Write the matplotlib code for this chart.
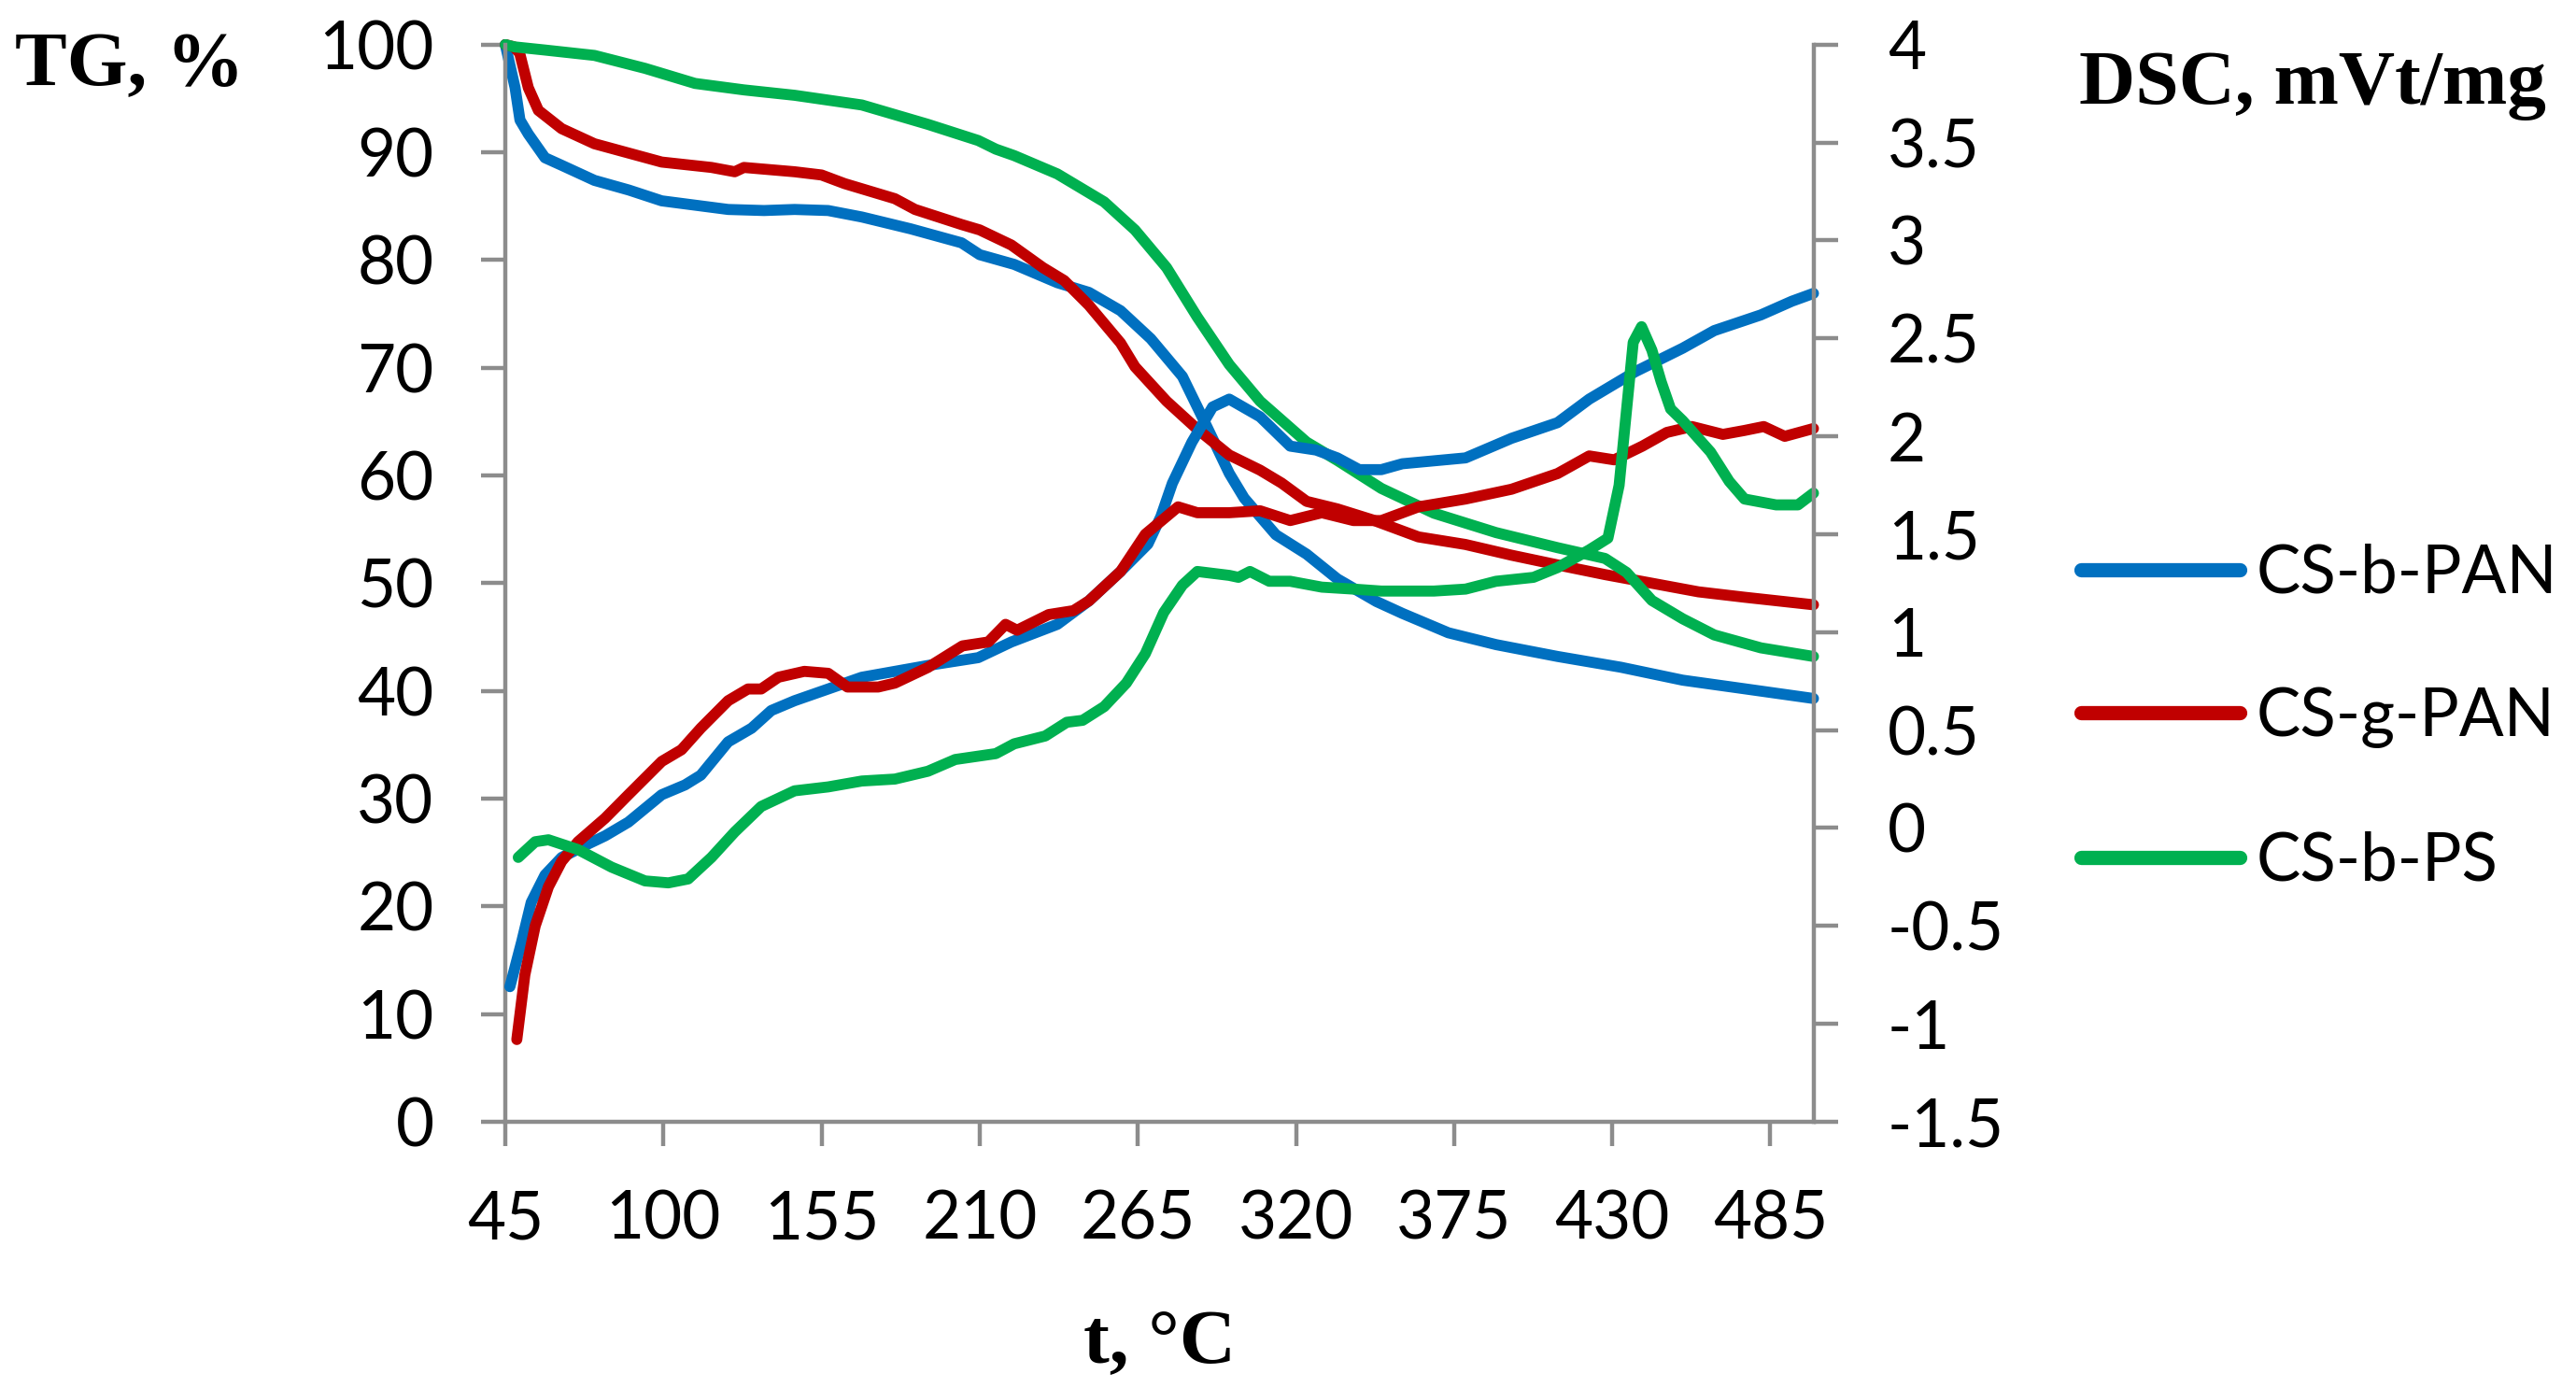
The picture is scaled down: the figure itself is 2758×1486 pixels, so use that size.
import matplotlib
matplotlib.use("Agg")
import matplotlib.pyplot as plt
from matplotlib.lines import Line2D

# TG curves (left axis, %)
t_tg_b_pan = [45, 48.4, 50.1, 53, 58.8, 64.6, 76, 88, 99.4, 122.5, 135, 145.6, 157.3, 169, 186, 203.7,
              210, 222, 237, 248, 259, 269.5, 280.5, 288, 296.8, 302, 313, 323.7, 334.4, 348, 357,
              373, 389.6, 411, 433, 454.5, 476, 500]
tg_b_pan = [100, 96, 93, 91.7, 89.5, 88.8, 87.4, 86.5, 85.5, 84.7, 84.6, 84.7, 84.6, 84, 82.9, 81.6,
            80.5, 79.6, 77.9, 77, 75.3, 72.7, 69.2, 65.1, 60.2, 57.9, 54.5, 52.7, 50.4, 48.3, 47.2,
            45.4, 44.3, 43.2, 42.2, 41, 40.2, 39.3]

t_tg_g_pan = [45, 48, 50, 53, 56.5, 64.6, 76, 99.4, 116.7, 124.8, 128, 145.6, 155, 163, 180.5, 187.5,
              203.7, 210, 221, 232, 239.4, 248, 259, 264, 275, 285.7, 296.8, 307.5, 315, 323.7, 334.4,
              346.4, 362.6, 378.9, 395, 411, 427.5, 443.8, 460, 476, 500]
tg_g_pan = [100, 99.8, 99.2, 96, 93.9, 92.2, 90.8, 89.1, 88.6, 88.2, 88.6, 88.2, 87.9, 87.1, 85.7, 84.7,
            83.3, 82.8, 81.4, 79.3, 78.1, 75.8, 72.3, 70.1, 66.9, 64.3, 61.9, 60.5, 59.3, 57.6, 56.9,
            55.9, 54.3, 53.6, 52.6, 51.7, 50.8, 50, 49.2, 48.7, 48]

t_tg_b_ps = [45, 48, 58.8, 76, 93.6, 111, 128, 145.6, 169, 192, 209.5, 215.6, 222, 237, 253.3, 264,
             275, 285.7, 296.8, 307.5, 323.7, 334.4, 349.7, 368, 389.6, 411, 427.5, 435, 443.8, 454.5,
             465.5, 481.7, 500]
tg_b_ps = [100, 99.8, 99.5, 99, 97.8, 96.4, 95.8, 95.3, 94.4, 92.6, 91.1, 90.3, 89.7, 88, 85.4, 82.8,
           79.3, 74.7, 70.3, 66.9, 63.1, 61.4, 58.8, 56.5, 54.7, 53.3, 52.3, 51, 48.4, 46.7,
           45.2, 44, 43.2]

# DSC curves (right axis, mVt/mg)
t_dsc_b_pan = [46.6, 50.7, 54, 58.8, 64.6, 74, 79.7, 87.8, 99.4, 107.5, 113, 122.5, 130.7, 137.5, 145.6,
               157.3, 169, 180.5, 192, 209.5, 221, 237, 248, 259, 268.5, 273, 277, 283.8, 291, 296.8,
               307.5, 318, 327, 334.4, 342, 349.7, 357, 379, 395, 411, 422, 438, 454.5, 465.5, 481.7,
               492.5, 500]
dsc_b_pan = [-0.81, -0.58, -0.38, -0.24, -0.15, -0.08, -0.04, 0.03, 0.17, 0.22, 0.27, 0.44, 0.51, 0.60, 0.65,
             0.71, 0.77, 0.80, 0.83, 0.87, 0.95, 1.04, 1.16, 1.31, 1.45, 1.59, 1.76, 1.97, 2.15, 2.19,
             2.10, 1.95, 1.93, 1.89, 1.83, 1.83, 1.86, 1.89, 1.99, 2.07, 2.19, 2.33, 2.45, 2.54, 2.62,
             2.69, 2.73]

t_dsc_g_pan = [49, 51.8, 55.4, 60, 64.6, 70.3, 79.7, 87.8, 99.4, 106.3, 113, 122.5, 129.4, 134, 140, 149,
               157.3, 164, 174.7, 180.5, 192, 204, 213, 219, 223, 234, 242.6, 248, 259, 267.6, 279,
               285.7, 296.8, 307.5, 318, 329, 340, 349.7, 362.6, 379, 395, 411, 422, 430.7, 440.5, 449,
               457.7, 468.5, 476, 482.7, 490, 500]
dsc_g_pan = [-1.08, -0.75, -0.50, -0.30, -0.17, -0.07, 0.05, 0.17, 0.34, 0.40, 0.51, 0.65, 0.71, 0.71, 0.77, 0.80,
             0.79, 0.72, 0.72, 0.74, 0.82, 0.93, 0.95, 1.04, 1.01, 1.09, 1.11, 1.16, 1.31, 1.50, 1.64,
             1.61, 1.61, 1.62, 1.57, 1.61, 1.57, 1.57, 1.64, 1.68, 1.73, 1.81, 1.90, 1.88, 1.95, 2.02,
             2.05, 2.01, 2.03, 2.05, 2.00, 2.04]

t_dsc_b_ps = [49.5, 55.4, 60, 70.3, 82, 93.6, 101.7, 108.6, 116.7, 124.8, 134, 145.6, 157.3, 169, 180.5,
              192, 201.5, 215.6, 222, 232.8, 240.3, 245.8, 253.3, 261, 267.6, 274, 280.5, 285.7, 296.8,
              300, 304, 310.7, 318, 329, 340, 349.7, 368, 379, 389.6, 402.6, 411, 422, 428.5, 432.4,
              437.3, 440.2, 443.8, 447, 450.3, 454.5, 464.2, 470.7, 476, 487, 494.6, 500]
dsc_b_ps = [-0.15, -0.07, -0.06, -0.11, -0.20, -0.27, -0.28, -0.26, -0.15, -0.02, 0.11, 0.19, 0.21, 0.24, 0.25,
            0.29, 0.35, 0.38, 0.43, 0.47, 0.54, 0.55, 0.62, 0.74, 0.89, 1.10, 1.24, 1.31, 1.29,
            1.28, 1.31, 1.26, 1.26, 1.23, 1.22, 1.21, 1.21, 1.22, 1.26, 1.28, 1.33, 1.42, 1.48, 1.75,
            2.48, 2.56, 2.44, 2.28, 2.14, 2.08, 1.92, 1.77, 1.68, 1.65, 1.65, 1.71]

labels = ["CS-b-PAN", "CS-g-PAN", "CS-b-PS"]
colors = ["#0070C0", "#C00000", "#00B050"]
x_ticks = [45, 100, 155, 210, 265, 320, 375, 430, 485]

axis_grey = "#8c8c8c"
tick_font = "Lato"
title_font = "Liberation Serif"

fig = plt.figure(figsize=(27.58, 14.86), dpi=100)
ax = fig.add_axes([0.19616, 0.19179, 0.50783, 0.77604])
ax2 = ax.twinx()

line_kw = dict(linewidth=8.5, solid_capstyle="round", solid_joinstyle="round", clip_on=False)

# TG on the primary axis
tg_series = [(t_tg_b_pan, tg_b_pan), (t_tg_g_pan, tg_g_pan), (t_tg_b_ps, tg_b_ps)]
for (tt, vv), c in zip(tg_series, colors):
    ax.plot(tt, vv, color=c, **line_kw)

# DSC on the secondary axis
dsc_series = [(t_dsc_b_pan, dsc_b_pan), (t_dsc_g_pan, dsc_g_pan), (t_dsc_b_ps, dsc_b_ps)]
for (tt, vv), c in zip(dsc_series, colors):
    ax2.plot(tt, vv, color=c, **line_kw)

ax.set_xlim(45, 500)
ax.set_ylim(0, 100)
ax2.set_ylim(-1.5, 4)
ax.set_xticks(x_ticks)
ax.set_yticks(range(0, 101, 10))
ax2.set_yticks([-1.5, -1, -0.5, 0, 0.5, 1, 1.5, 2, 2.5, 3, 3.5, 4])
ax2.set_yticklabels(["-1.5", "-1", "-0.5", "0", "0.5", "1", "1.5", "2", "2.5", "3", "3.5", "4"])

for a in (ax, ax2):
    a.spines["top"].set_visible(False)
    for side in ("left", "right", "bottom"):
        a.spines[side].set_color(axis_grey)
        a.spines[side].set_linewidth(3.2)
    a.tick_params(axis="both", direction="out", length=19, width=3.2, color=axis_grey,
                  labelsize=51, labelcolor="black")
    for lab in a.get_xticklabels() + a.get_yticklabels():
        lab.set_fontfamily(tick_font)

ax.spines["right"].set_visible(False)
ax2.spines["left"].set_visible(False)
ax2.spines["bottom"].set_visible(False)
ax.tick_params(axis="x", pad=33)
ax.tick_params(axis="y", pad=36)
ax2.tick_params(axis="y", pad=38)

# axis titles
fig.text(16 / 2758, 1 - 91.5 / 1486, "TG, %", fontfamily=title_font, fontweight="bold",
         fontsize=60, ha="left", va="baseline")
fig.text(2226 / 2758, 1 - 111 / 1486, "DSC, mVt/mg", fontfamily=title_font, fontweight="bold",
         fontsize=60, ha="left", va="baseline")
fig.text(1241 / 2758, 1 - 1457.6 / 1486, "t, \u00b0C", fontfamily=title_font, fontweight="bold",
         fontsize=60, ha="center", va="baseline")

# legend
handles = [Line2D([0], [0], color=c, linewidth=11, solid_capstyle="round") for c in colors]
leg = fig.legend(handles, labels, loc="center left", bbox_to_anchor=(2228 / 2758, 1 - 768 / 1486),
                 frameon=False, prop={"family": tick_font, "size": 51}, handlelength=2.4,
                 handletextpad=0.25, labelspacing=1.25, borderpad=0, borderaxespad=0)

fig.savefig("out.png", dpi=100)
plt.close(fig)
